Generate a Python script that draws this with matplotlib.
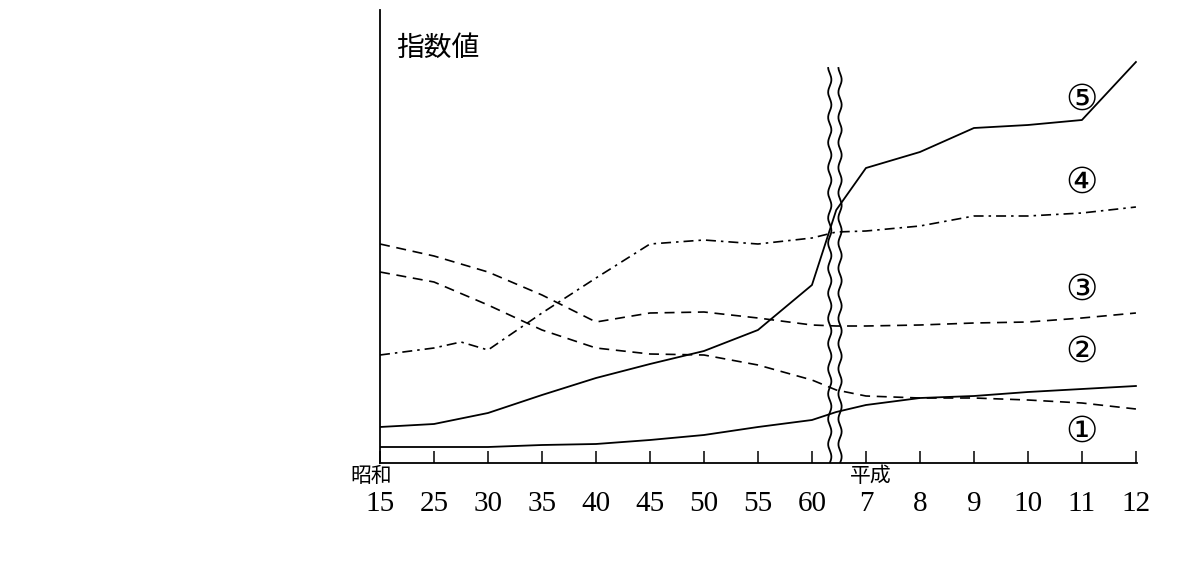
import matplotlib.pyplot as plt
import numpy as np

plt.rcParams['font.family'] = ['Noto Sans CJK JP', 'DejaVu Sans']

# x positions (tick index) and labels
tick_labels = ['15', '25', '30', '35', '40', '45', '50', '55', '60', '7', '8', '9', '10', '11', '12']
tick_pos = [0, 1, 2, 3, 4, 5, 6, 7, 8, 9, 10, 11, 12, 13, 14]

# series (index value)
x1 = [0, 1, 2, 3, 4, 5, 6, 7, 8, 8.45, 9, 10, 11, 12, 13, 14]
s1 = [16, 16, 16, 18, 19, 23, 28, 36, 43, 51, 58, 65, 67, 71, 74, 77]
x2 = [0, 1, 2, 3, 4, 5, 6, 7, 8, 8.45, 9, 10, 11, 12, 13, 14]
s2 = [191, 181, 158, 133, 115, 109, 108, 98, 83, 73, 67, 65, 65, 63, 60, 54]
x3 = [0, 1, 2, 3, 4, 5, 6, 7, 8, 8.45, 9, 10, 11, 12, 13, 14]
s3 = [219, 207, 191, 168, 141, 150, 151, 145, 138, 137, 137, 138, 140, 141, 145, 150]
x4 = [0, 1, 1.5, 2, 3, 4, 5, 6, 7, 8, 8.45, 9, 10, 11, 12, 13, 14]
s4 = [108, 115, 121, 113, 150, 185, 219, 223, 219, 225, 231, 232, 237, 247, 247, 250, 256]
x5 = [0, 1, 2, 3, 4, 5, 6, 7, 8, 8.45, 9, 10, 11, 12, 13, 14]
s5 = [36, 39, 50, 68, 85, 99, 112, 133, 178, 253, 295, 311, 335, 338, 343, 401]

fig = plt.figure(figsize=(11.94, 5.81), dpi=100)
ax = fig.add_axes([380/1194, (581-463)/581, (1137-380)/1194, 453/581])
ax.set_xlim(0, 14.02)
ax.set_ylim(0, 453)

ax.plot(x1, s1, color='black', lw=1.3)
ax.plot(x2, s2, color='black', lw=1.2, dashes=(6, 4))
ax.plot(x3, s3, color='black', lw=1.2, dashes=(6, 4))
ax.plot(x4, s4, color='black', lw=1.2, dashes=(6, 3, 1.5, 3))
ax.plot(x5, s5, color='black', lw=1.3)

# wavy break lines
yy = np.linspace(0, 395, 400)
for xb in (8.33, 8.52):
    ax.plot(xb + 0.03 * np.sin(yy / 4.0), yy, color='black', lw=1.3)

for sp in ('top', 'right'):
    ax.spines[sp].set_visible(False)
ax.spines['left'].set_linewidth(1.3)
ax.spines['bottom'].set_linewidth(1.3)
ax.set_yticks([])
ax.set_xticks(tick_pos)
ax.set_xticklabels(tick_labels, fontsize=21, family=['Liberation Serif', 'DejaVu Serif'])
ax.tick_params(axis='x', direction='in', length=9, width=1.1, pad=20)

ax.text(0.3, 415, '指数値', fontsize=20, va='center')
ax.text(-0.55, -13, '昭和', fontsize=15, va='center')
ax.text(8.7, -13, '平成', fontsize=15, va='center')

for lab, yv in zip(['①', '②', '③', '④', '⑤'], [31, 111, 173, 280, 363]):
    ax.text(12.7, yv, lab, fontsize=26, va='center', family=['DejaVu Sans'])

fig.savefig('out.png', dpi=100)
